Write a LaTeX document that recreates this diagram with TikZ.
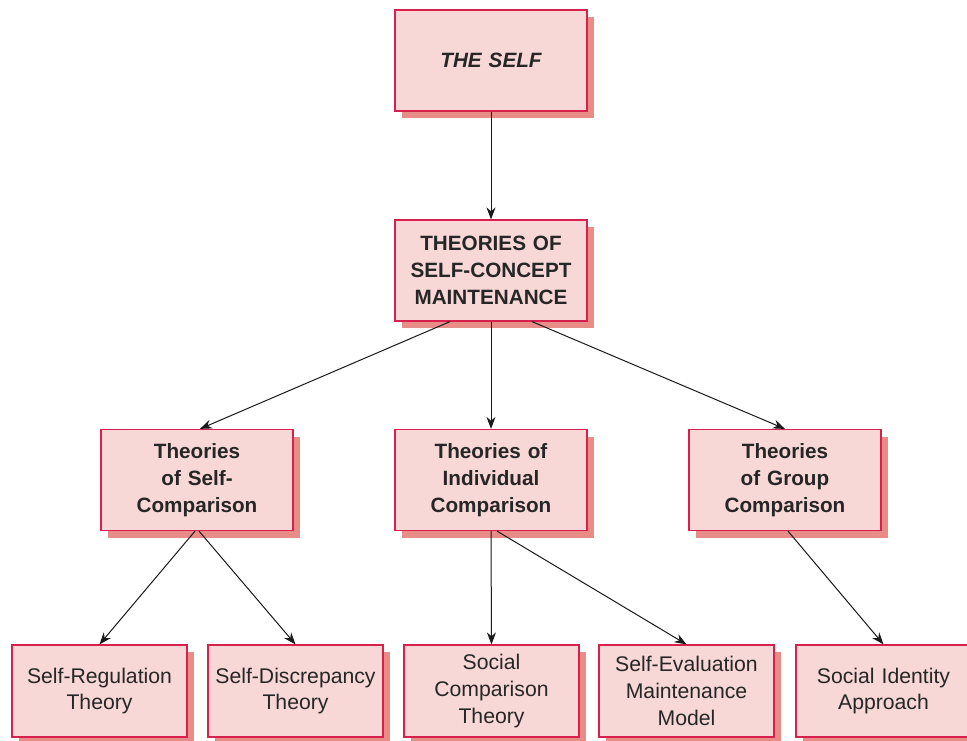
\documentclass[tikz,border=0pt]{standalone}
\usepackage{fontspec}
\setmainfont{Liberation Sans}
\usetikzlibrary{arrows.meta,shadows}
\definecolor{boxfill}{HTML}{F7D8D6}
\definecolor{boxline}{HTML}{D8204C}
\definecolor{boxshadow}{HTML}{E88C88}
\definecolor{linecol}{HTML}{1A1A1A}
\tikzset{
  pbox/.style={draw=boxline, line width=1.2pt, fill=boxfill, align=center,
    inner sep=0pt, font=\fontsize{21.2}{26.7}\selectfont, text=black!85,
    drop shadow={shadow xshift=7pt, shadow yshift=-7pt, fill=boxshadow, opacity=1}},
  bigbox/.style={pbox, minimum width=192pt, minimum height=101pt, text width=190pt, font=\fontsize{20.7}{26.7}\selectfont\bfseries},
  smallbox/.style={pbox, minimum width=175pt, minimum height=92pt, text width=172pt},
  conn/.style={draw=linecol, line width=1pt, -{Stealth[length=12pt,width=9pt]}}
}
\begin{document}
\begin{tikzpicture}[x=1pt,y=-1pt]
\useasboundingbox[fill=white] (0,0) rectangle (967,740);
\node[bigbox, font=\fontsize{20.7}{26.7}\selectfont\bfseries\itshape] (self) at (491,60.5) {THE SELF};
\node[bigbox] (theories) at (491,270.5) {THEORIES OF\\SELF-CONCEPT\\MAINTENANCE};
\node[bigbox] (selfcomp) at (197,480) {Theories\\of Self-\\Comparison};
\node[bigbox] (indiv) at (491,480) {Theories of\\Individual\\Comparison};
\node[bigbox] (group) at (785,480) {Theories\\of Group\\Comparison};
\node[smallbox] (selfreg) at (99.5,691) {Self-Regulation\\Theory};
\node[smallbox] (selfdisc) at (295.5,691) {Self-Discrepancy\\Theory};
\node[smallbox] (socomp) at (491.5,691) {Social\\Comparison\\Theory};
\node[smallbox] (selfeval) at (686.5,691) {Self-Evaluation\\Maintenance\\Model};
\node[smallbox] (socid) at (883.5,691) {Social Identity\\Approach};
\draw[conn] (self.south) -- (theories.north);
\draw[conn] ([xshift=-41pt]theories.south) -- ([xshift=3pt]selfcomp.north);
\draw[conn] (theories.south) -- (indiv.north);
\draw[conn] ([xshift=41pt]theories.south) -- (group.north);
\draw[conn] ([xshift=-2pt]selfcomp.south) -- (selfreg.north);
\draw[conn] ([xshift=2pt]selfcomp.south) -- (selfdisc.north);
\draw[conn] (indiv.south) -- (socomp.north);
\draw[conn] ([xshift=6pt]indiv.south) -- (selfeval.north);
\draw[conn] ([xshift=3pt]group.south) -- (socid.north);
\end{tikzpicture}
\end{document}
